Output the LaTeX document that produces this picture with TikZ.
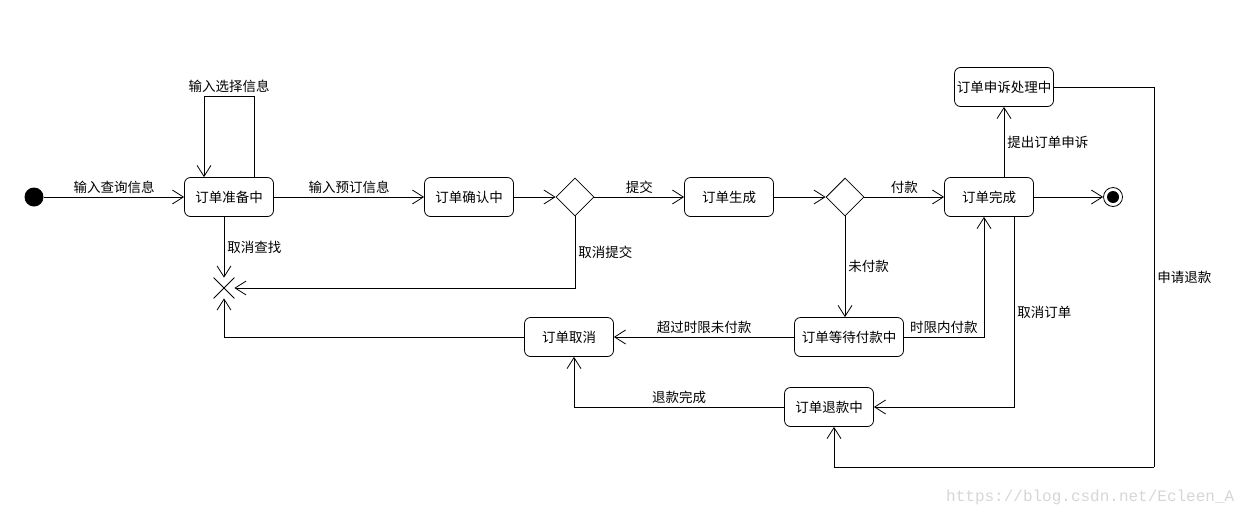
\documentclass[tikz,border=0pt]{standalone}
\usepackage{fontspec}
\setmainfont{Noto Sans CJK SC}
\newfontfamily\wmfont{Liberation Mono}
\usetikzlibrary{arrows.meta}
\usetikzlibrary{shapes.geometric}
\usetikzlibrary{shapes.misc}
\usetikzlibrary{positioning}
\tikzset{state/.style = {draw, rounded corners = 6, minimum width = 89, minimum height = 39, inner sep = 0}}
\tikzset{choice/.style = {draw, diamond, minimum width = 38, minimum height = 38, inner sep = 0}}
\tikzset{trans/.style = {-{Straight Barb[length = 11pt, width = 14pt]}}}
\tikzset{lbl/.style = {inner sep = 3}}
\definecolor{wmgray}{rgb}{0.84, 0.84, 0.84}

\begin{document}
\begin{tikzpicture}[x = 1pt, y = -1pt, line width = 0.8pt, font = \fontsize{13.5}{15}\selectfont]
    \useasboundingbox (0, 0) rectangle (1246, 517);

    \node [circle, fill, minimum size = 19, inner sep = 0] (start) at (34, 197) {};
    \node [state] (prep) at (229, 197) {订单准备中};
    \node [state] (confirm) at (469, 197) {订单确认中};
    \node [choice] (dec1) at (575, 197) {};
    \node [state] (gen) at (729, 197) {订单生成};
    \node [choice] (dec2) at (845, 197) {};
    \node [state] (done) at (989, 197) {订单完成};
    \node [circle, draw, minimum size = 19, inner sep = 0] (finish) at (1113, 197) {};
    \fill (finish) circle (6pt);
    \node [state, minimum width = 99] (appeal) at (1004, 87) {订单申诉处理中};
    \node [draw, cross out, minimum size = 20, inner sep = 0] (kill) at (224, 288) {};
    \node [state] (cancel) at (569, 337) {订单取消};
    \node [state, minimum width = 109] (wait) at (849, 337) {订单等待付款中};
    \node [state] (refund) at (829, 407) {订单退款中};
    \coordinate (rc) at (1154, 467);

    \draw [trans] (start) -- node [lbl, above] {输入查询信息} (prep);
    \draw [trans] ([xshift = 25]prep.north) -- ++(0, -81) -| node [lbl, pos = 0.25, above] {输入选择信息} ([xshift = -25]prep.north);
    \draw [trans] (prep) -- node [lbl, above] {输入预订信息} (confirm);
    \draw [trans] (confirm) -- (dec1);
    \draw [trans] (dec1) -- node [lbl, above] {提交} (gen);
    \draw [trans] (gen) -- (dec2);
    \draw [trans] (dec2) -- node [lbl, above] {付款} (done);
    \draw [trans] (done) -- (finish);
    \draw [trans] (kill |- prep.south) -- node [lbl, right] {取消查找} (kill.north);
    \draw [trans] (dec1.south) |- node [lbl, pos = 0.25, right] {取消提交} (kill.east);
    \draw [trans] (cancel.west) -| (kill.south);
    \draw [trans] (dec2.south) -- node [lbl, right] {未付款} (dec2 |- wait.north);
    \draw [trans] (wait.west) -- node [lbl, above] {超过时限未付款} (cancel.east);
    \draw [trans] (wait.east) -| node [lbl, pos = 0.25, above] {时限内付款} ([xshift = -5]done.south);
    \draw [trans] ([xshift = 25]done.south) |- node [lbl, pos = 0.25, right] {取消订单} (refund.east);
    \draw [trans] (refund.west) -| node [lbl, pos = 0.25, above] {退款完成} ([xshift = 5]cancel.south);
    \draw [trans] (appeal.south |- done.north) -- node [lbl, right] {提出订单申诉} (appeal.south);
    \draw (appeal.east) -| node [lbl, pos = 0.75, right] {申请退款} (rc);
    \draw [trans] (rc) -| ([xshift = 5]refund.south);

    \node [text = wmgray, font = \wmfont\fontsize{16}{18}\selectfont, anchor = east] (mark) at (1238, 497) {https://blog.csdn.net/Ecleen\_A};
  \end{tikzpicture}
\end{document}
